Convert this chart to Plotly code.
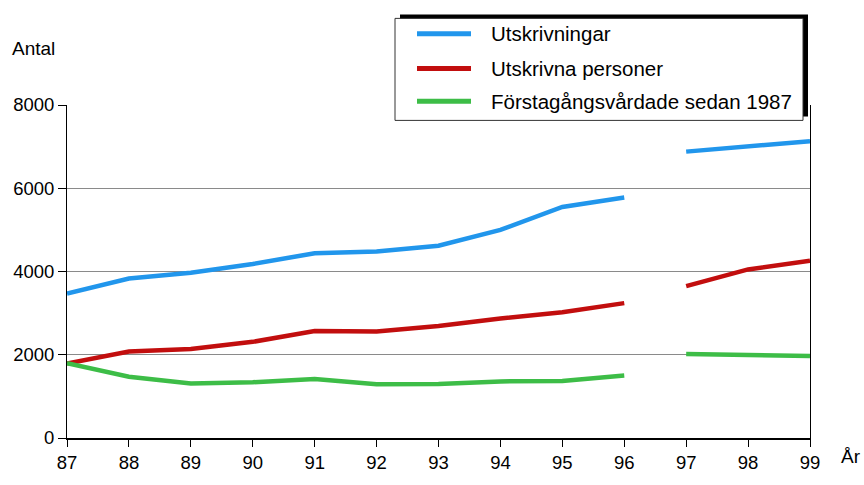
import plotly.graph_objects as go

# Data (gap between 96 and 97)
years = [87, 88, 89, 90, 91, 92, 93, 94, 95, 96, 97, 98, 99]
year_labels = ["87", "88", "89", "90", "91", "92", "93", "94", "95", "96", "97", "98", "99"]

utskrivningar = [3470, 3830, 3970, 4180, 4440, 4480, 4620, 5000, 5550, 5780, None, 6880, 7000, 7130]
utskrivna_personer = [1790, 2080, 2140, 2310, 2570, 2560, 2690, 2870, 3020, 3240, None, 3650, 4050, 4260]
forstagang = [1800, 1470, 1310, 1340, 1420, 1290, 1300, 1360, 1370, 1500, None, 2020, 2000, 1970]

# x positions with a break inserted between 96 and 97
x_vals = years[:10] + [None] + years[10:]

series_names = ["Utskrivningar", "Utskrivna personer", "Förstagångsvårdade sedan 1987"]
series_values = [utskrivningar, utskrivna_personer, forstagang]
colors = ["#2196ec", "#c20e0e", "#3dbd47"]

FONT = "Liberation Sans, Arial, sans-serif"

fig = go.Figure()

for name, vals, col in zip(series_names, series_values, colors):
    fig.add_trace(go.Scatter(
        x=x_vals, y=vals, mode="lines", name=name,
        line=dict(color=col, width=4.5),
        connectgaps=False, showlegend=False,
    ))

# plot area in pixels: left 67, right 810, top 105, bottom 451
L, R, T, B = 67, 810, 105, 451
def px(xp):
    return (xp - L) / (R - L)
def py(yp):
    return (B - yp) / (B - T)

shapes = [
    # legend shadow and box
    dict(type="rect", xref="paper", yref="paper", x0=px(400), x1=px(808), y0=py(117), y1=py(11),
         fillcolor="black", line=dict(width=0), layer="above"),
    dict(type="rect", xref="paper", yref="paper", x0=px(395), x1=px(803), y0=py(121), y1=py(15),
         fillcolor="white", line=dict(color="#333333", width=1), layer="above"),
]
annotations = [
    dict(text="Antal", xref="paper", yref="paper", x=px(10), y=py(46), xanchor="left", yanchor="middle",
         showarrow=False, font=dict(size=19, color="black", family=FONT)),
    dict(text="År", xref="paper", yref="paper", x=px(839), y=py(470), xanchor="left", yanchor="middle",
         showarrow=False, font=dict(size=19, color="black", family=FONT)),
]
leg_y = [31, 67, 101]
for name, col, yy in zip(series_names, colors, leg_y):
    shapes.append(dict(type="line", xref="paper", yref="paper", x0=px(417), x1=px(471), y0=py(yy), y1=py(yy),
                       line=dict(color=col, width=5), layer="above"))
    annotations.append(dict(text=name, xref="paper", yref="paper", x=px(489), y=py(yy), xanchor="left",
                            yanchor="middle", showarrow=False,
                            font=dict(size=20.5, color="black", family=FONT)))

fig.update_layout(
    width=864, height=485, autosize=False,
    margin=dict(l=L, r=864 - R, t=T, b=485 - B),
    paper_bgcolor="white", plot_bgcolor="white",
    font=dict(family=FONT, size=18.5, color="black"),
    xaxis=dict(range=[87, 99], tickvals=years, ticktext=year_labels,
               showline=True, linecolor="black", linewidth=1.5,
               ticks="outside", ticklen=7, tickcolor="black",
               showgrid=False, zeroline=False, fixedrange=True),
    yaxis=dict(range=[0, 8000], tickvals=[0, 2000, 4000, 6000, 8000],
               showline=True, linecolor="black", linewidth=1, mirror=True,
               ticks="outside", ticklen=8, tickcolor="black",
               showgrid=True, gridcolor="#8a8a8a", gridwidth=1,
               zeroline=False, fixedrange=True),
    shapes=shapes,
    annotations=annotations,
    showlegend=False,
)

# pin the graph to the top-left corner of the page so nothing scrolls
pin = (
    "document.body.style.margin='0px';"
    "document.documentElement.style.overflow='hidden';"
    "var gd=document.getElementById('{plot_id}');"
    "gd.style.position='fixed';gd.style.top='0px';gd.style.left='0px';"
)
fig.write_html("out.html", config={"displayModeBar": False, "responsive": False}, post_script=pin)
